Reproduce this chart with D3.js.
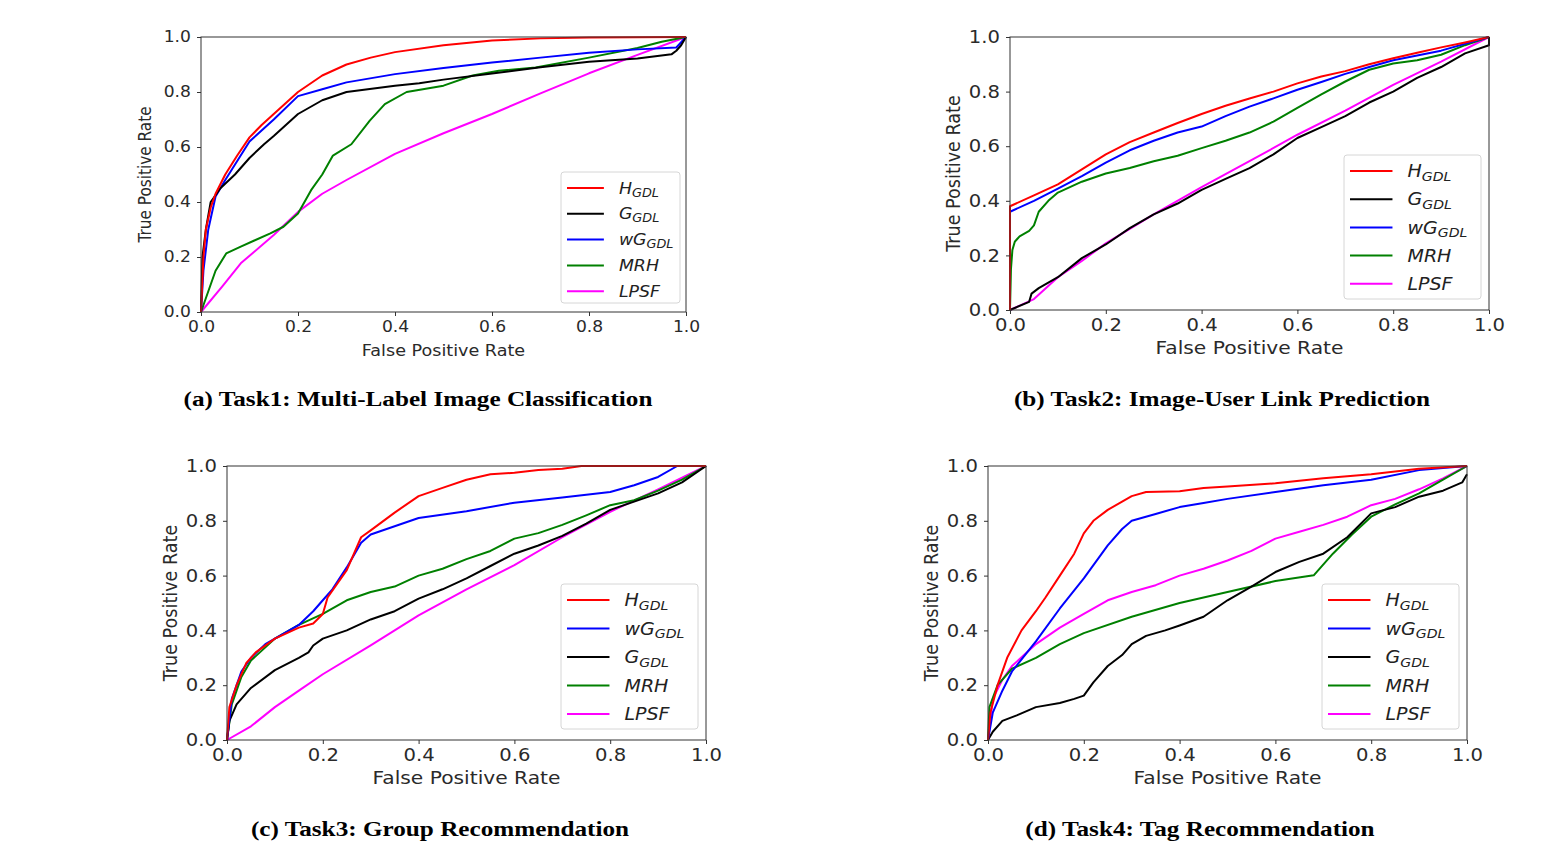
<!DOCTYPE html>
<html>
<head>
<meta charset="utf-8">
<script src="https://cdn.jsdelivr.net/npm/d3@7"></script>
<style>
  body { margin: 0; background: #fff; }
  .tick text { font-family: "DejaVu Sans", sans-serif; fill: #2a2a2a; }
  .axis line { stroke: #333; }
  .lab { font-family: "DejaVu Sans", sans-serif; fill: #2a2a2a; }
  .cap { font-family: "Liberation Serif", serif; font-weight: bold; fill: #000; }
  .leg { font-family: "DejaVu Sans", sans-serif; font-style: italic; fill: #222; }
</style>
</head>
<body>
<svg id="fig" width="1541" height="851"></svg>
<script>
// ROC points, [false positive rate, true positive rate]
const task1_H = [[0,0],[0.005,0.2],[0.01,0.3],[0.02,0.38],[0.03,0.43],[0.05,0.5],[0.075,0.57],[0.1,0.635],[0.125,0.68],[0.15,0.72],[0.2,0.8],[0.25,0.86],[0.3,0.9],[0.35,0.925],[0.4,0.945],[0.5,0.97],[0.6,0.987],[0.7,0.995],[0.8,0.998],[1,1]];
const task1_G = [[0,0],[0.003,0.2],[0.01,0.3],[0.02,0.4],[0.04,0.45],[0.07,0.5],[0.1,0.56],[0.13,0.61],[0.15,0.64],[0.2,0.72],[0.25,0.77],[0.3,0.8],[0.4,0.823],[0.45,0.832],[0.5,0.845],[0.6,0.867],[0.7,0.89],[0.8,0.91],[0.9,0.922],[0.97,0.937],[0.98,0.95],[0.99,0.97],[1,1]];
const task1_wG = [[0,0],[0.005,0.15],[0.015,0.3],[0.03,0.42],[0.05,0.48],[0.1,0.62],[0.15,0.7],[0.2,0.785],[0.25,0.81],[0.3,0.835],[0.4,0.865],[0.5,0.887],[0.6,0.907],[0.7,0.925],[0.8,0.943],[0.9,0.955],[0.98,0.962],[1,1]];
const task1_MRH = [[0,0],[0.01,0.05],[0.02,0.1],[0.03,0.15],[0.052,0.213],[0.082,0.238],[0.11,0.26],[0.143,0.286],[0.17,0.31],[0.2,0.358],[0.227,0.443],[0.25,0.5],[0.272,0.569],[0.31,0.61],[0.348,0.696],[0.379,0.756],[0.424,0.8],[0.5,0.823],[0.56,0.86],[0.614,0.877],[0.69,0.889],[0.8,0.925],[0.9,0.96],[0.95,0.983],[1,1]];
const task1_LPSF = [[0,0],[0.044,0.093],[0.082,0.177],[0.15,0.28],[0.2,0.364],[0.25,0.43],[0.3,0.48],[0.4,0.575],[0.5,0.65],[0.6,0.72],[0.7,0.795],[0.8,0.868],[0.9,0.935],[1,1]];

const task2_H = [[0,0],[0,0.38],[0.05,0.42],[0.1,0.46],[0.15,0.515],[0.2,0.57],[0.25,0.615],[0.3,0.65],[0.35,0.685],[0.4,0.718],[0.45,0.748],[0.5,0.775],[0.55,0.8],[0.6,0.83],[0.65,0.855],[0.7,0.875],[0.75,0.9],[0.8,0.922],[0.85,0.942],[0.9,0.962],[0.95,0.98],[1,1]];
const task2_G = [[0,0],[0.04,0.03],[0.045,0.06],[0.06,0.08],[0.1,0.12],[0.15,0.19],[0.2,0.24],[0.25,0.3],[0.3,0.35],[0.35,0.39],[0.4,0.44],[0.45,0.48],[0.5,0.52],[0.55,0.57],[0.6,0.63],[0.65,0.67],[0.7,0.71],[0.75,0.76],[0.8,0.8],[0.85,0.85],[0.9,0.89],[0.95,0.94],[1,0.97],[1,1]];
const task2_wG = [[0,0],[0,0.36],[0.05,0.4],[0.1,0.445],[0.15,0.49],[0.2,0.54],[0.25,0.585],[0.3,0.62],[0.35,0.65],[0.4,0.672],[0.45,0.71],[0.5,0.745],[0.55,0.775],[0.6,0.807],[0.65,0.835],[0.7,0.865],[0.75,0.89],[0.8,0.915],[0.9,0.95],[1,1]];
const task2_MRH = [[0,0],[0.002,0.15],[0.005,0.22],[0.01,0.25],[0.02,0.27],[0.04,0.29],[0.05,0.31],[0.06,0.36],[0.08,0.4],[0.1,0.43],[0.15,0.47],[0.2,0.5],[0.25,0.52],[0.3,0.545],[0.35,0.565],[0.4,0.593],[0.45,0.62],[0.5,0.65],[0.55,0.69],[0.6,0.74],[0.65,0.79],[0.7,0.837],[0.75,0.88],[0.8,0.903],[0.85,0.915],[0.9,0.935],[0.95,0.97],[1,1]];
const task2_LPSF = [[0,0],[0.05,0.04],[0.1,0.12],[0.15,0.18],[0.2,0.244],[0.3,0.35],[0.4,0.45],[0.5,0.545],[0.6,0.642],[0.7,0.73],[0.8,0.825],[0.9,0.91],[1,1]];

const task3_H = [[0,0],[0.005,0.12],[0.02,0.2],[0.04,0.28],[0.06,0.32],[0.1,0.37],[0.15,0.41],[0.18,0.425],[0.2,0.46],[0.21,0.52],[0.25,0.62],[0.28,0.74],[0.3,0.765],[0.35,0.83],[0.4,0.89],[0.45,0.92],[0.5,0.95],[0.55,0.97],[0.6,0.975],[0.65,0.985],[0.7,0.99],[0.74,1],[1,1]];
const task3_wG = [[0,0],[0.01,0.15],[0.03,0.25],[0.05,0.3],[0.08,0.35],[0.1,0.37],[0.15,0.42],[0.18,0.47],[0.2,0.51],[0.22,0.55],[0.25,0.63],[0.28,0.72],[0.3,0.75],[0.35,0.78],[0.4,0.81],[0.5,0.835],[0.6,0.866],[0.7,0.885],[0.8,0.905],[0.85,0.93],[0.9,0.96],[0.94,1],[1,1]];
const task3_G = [[0,0],[0.005,0.07],[0.02,0.13],[0.05,0.19],[0.1,0.255],[0.15,0.3],[0.17,0.32],[0.18,0.345],[0.2,0.37],[0.25,0.4],[0.3,0.44],[0.35,0.47],[0.4,0.516],[0.45,0.55],[0.5,0.59],[0.55,0.635],[0.6,0.68],[0.65,0.71],[0.7,0.745],[0.75,0.79],[0.8,0.84],[0.85,0.87],[0.9,0.9],[0.95,0.94],[1,1]];
const task3_MRH = [[0,0],[0.01,0.13],[0.03,0.23],[0.05,0.29],[0.1,0.37],[0.15,0.42],[0.2,0.46],[0.25,0.51],[0.3,0.54],[0.35,0.56],[0.4,0.6],[0.45,0.625],[0.5,0.66],[0.55,0.69],[0.6,0.735],[0.65,0.755],[0.7,0.785],[0.75,0.82],[0.8,0.857],[0.85,0.875],[0.9,0.91],[0.95,0.95],[1,1]];
const task3_LPSF = [[0,0],[0.05,0.05],[0.1,0.12],[0.15,0.18],[0.2,0.24],[0.3,0.345],[0.4,0.455],[0.5,0.55],[0.6,0.638],[0.7,0.74],[0.8,0.833],[0.9,0.915],[1,1]];

const task4_H = [[0,0],[0.005,0.1],[0.02,0.2],[0.04,0.3],[0.07,0.4],[0.1,0.47],[0.12,0.52],[0.15,0.6],[0.18,0.68],[0.2,0.754],[0.22,0.8],[0.25,0.84],[0.28,0.87],[0.3,0.89],[0.33,0.905],[0.4,0.908],[0.45,0.92],[0.5,0.925],[0.6,0.937],[0.7,0.955],[0.8,0.97],[0.9,0.99],[1,1]];
const task4_wG = [[0,0],[0.01,0.1],[0.03,0.18],[0.05,0.25],[0.1,0.36],[0.15,0.48],[0.2,0.59],[0.25,0.71],[0.28,0.77],[0.3,0.8],[0.35,0.825],[0.4,0.85],[0.45,0.865],[0.5,0.88],[0.6,0.905],[0.7,0.93],[0.8,0.95],[0.9,0.985],[1,1]];
const task4_G = [[0,0],[0.01,0.03],[0.03,0.07],[0.06,0.09],[0.1,0.12],[0.15,0.135],[0.18,0.15],[0.2,0.162],[0.22,0.21],[0.25,0.27],[0.28,0.31],[0.3,0.35],[0.33,0.38],[0.37,0.4],[0.4,0.418],[0.45,0.45],[0.5,0.51],[0.55,0.56],[0.6,0.613],[0.65,0.65],[0.7,0.68],[0.75,0.74],[0.8,0.827],[0.85,0.85],[0.9,0.888],[0.95,0.91],[0.99,0.94],[1,0.97]];
const task4_MRH = [[0,0],[0.003,0.12],[0.02,0.2],[0.05,0.26],[0.1,0.3],[0.15,0.35],[0.2,0.39],[0.3,0.45],[0.4,0.5],[0.5,0.54],[0.6,0.58],[0.68,0.601],[0.72,0.68],[0.76,0.75],[0.8,0.815],[0.85,0.86],[0.9,0.9],[0.95,0.95],[1,1]];
const task4_LPSF = [[0,0],[0.01,0.15],[0.03,0.22],[0.05,0.27],[0.1,0.35],[0.15,0.41],[0.2,0.46],[0.25,0.51],[0.3,0.54],[0.35,0.565],[0.4,0.6],[0.45,0.625],[0.5,0.655],[0.55,0.69],[0.6,0.735],[0.65,0.76],[0.7,0.785],[0.75,0.815],[0.8,0.857],[0.85,0.88],[0.9,0.915],[0.95,0.955],[1,1]];

const ticks = [0, 0.2, 0.4, 0.6, 0.8, 1.0];
const methods = {
  H:    {main: "H",  sub: "GDL", color: "#ff0000"},
  G:    {main: "G",  sub: "GDL", color: "#000000"},
  wG:   {main: "wG", sub: "GDL", color: "#0000ff"},
  MRH:  {main: "MRH", sub: "",   color: "#008000"},
  LPSF: {main: "LPSF", sub: "",  color: "#ff00ff"}
};

// the source figures are stretched sideways, so text gets a horizontal scale
const sx = 1.12;

const panels = [
  {caption: "(a) Task1: Multi-Label Image Classification", capX: 418, capY: 406,
   l: 201, r: 686, t: 37, b: 312, tfs: 15.3, lfs: 15.3,
   order: ["H","G","wG","MRH","LPSF"],
   series: {H: task1_H, G: task1_G, wG: task1_wG, MRH: task1_MRH, LPSF: task1_LPSF},
   leg: {x: 561, y: 172, w: 119, h: 131, row: 25.8, fs: 15.5}},
  {caption: "(b) Task2: Image-User Link Prediction", capX: 1222, capY: 406,
   l: 1010, r: 1489, t: 37, b: 310, tfs: 17.5, lfs: 17.6,
   order: ["H","G","wG","MRH","LPSF"],
   series: {H: task2_H, G: task2_G, wG: task2_wG, MRH: task2_MRH, LPSF: task2_LPSF},
   leg: {x: 1344, y: 155, w: 137, h: 144, row: 28.2, fs: 17}},
  {caption: "(c) Task3: Group Recommendation", capX: 440, capY: 836,
   l: 227, r: 706, t: 466, b: 740, tfs: 17.5, lfs: 17.6,
   order: ["H","wG","G","MRH","LPSF"],
   series: {H: task3_H, G: task3_G, wG: task3_wG, MRH: task3_MRH, LPSF: task3_LPSF},
   leg: {x: 561, y: 584, w: 137, h: 145, row: 28.5, fs: 17}},
  {caption: "(d) Task4: Tag Recommendation", capX: 1200, capY: 836,
   l: 988, r: 1467, t: 466, b: 740, tfs: 17.5, lfs: 17.6,
   order: ["H","wG","G","MRH","LPSF"],
   series: {H: task4_H, G: task4_G, wG: task4_wG, MRH: task4_MRH, LPSF: task4_LPSF},
   leg: {x: 1322, y: 584, w: 137, h: 145, row: 28.5, fs: 17}}
];

const svg = d3.select("#fig");

panels.forEach(p => {
  const x = d3.scaleLinear().domain([0, 1]).range([p.l, p.r]);
  const y = d3.scaleLinear().domain([0, 1]).range([p.b, p.t]);
  const g = svg.append("g");

  const line = d3.line().x(d => x(d[0])).y(d => y(d[1]));

  // curves, drawn in reverse legend order so the first entry ends on top
  p.order.slice().reverse().forEach(k => {
    g.append("path")
      .datum(p.series[k])
      .attr("fill", "none")
      .attr("stroke", methods[k].color)
      .attr("stroke-width", 2)
      .attr("stroke-linejoin", "round")
      .attr("d", line);
  });

  const xAxis = g.append("g").attr("class", "axis")
    .attr("transform", "translate(0," + p.b + ")")
    .call(d3.axisBottom(x).tickValues(ticks).tickFormat(d3.format(".1f")).tickSize(4).tickPadding(5));
  const yAxis = g.append("g").attr("class", "axis")
    .attr("transform", "translate(" + p.l + ",0)")
    .call(d3.axisLeft(y).tickValues(ticks).tickFormat(d3.format(".1f")).tickSize(4).tickPadding(5));
  [xAxis, yAxis].forEach(a => {
    a.select(".domain").remove();
    a.selectAll("text").style("font-size", p.tfs + "px");
  });
  xAxis.selectAll("text").attr("transform", "scale(" + sx + ",1)");
  yAxis.selectAll("text").attr("transform", "scale(" + sx + ",1)");

  g.append("rect")
    .attr("x", p.l).attr("y", p.t)
    .attr("width", p.r - p.l).attr("height", p.b - p.t)
    .attr("fill", "none").attr("stroke", "#333").attr("stroke-width", 1);

  g.append("text").attr("class", "lab")
    .attr("transform", "translate(" + ((p.l + p.r) / 2) + "," + (p.b + 44) + ") scale(" + (sx + 0.03) + ",1)")
    .attr("text-anchor", "middle").style("font-size", p.lfs + "px")
    .text("False Positive Rate");
  g.append("text").attr("class", "lab")
    .attr("transform", "translate(" + (p.l - 50) + "," + ((p.t + p.b) / 2) + ") rotate(-90) scale(1," + sx + ")")
    .attr("text-anchor", "middle").style("font-size", p.lfs + "px")
    .text("True Positive Rate");

  // legend
  const L = p.leg;
  g.append("rect")
    .attr("x", L.x).attr("y", L.y).attr("width", L.w).attr("height", L.h)
    .attr("rx", 3).attr("fill", "#fff").attr("fill-opacity", 0.85)
    .attr("stroke", "#d6d6d6");
  p.order.forEach((k, i) => {
    const cy = L.y + 16 + i * L.row;
    g.append("line")
      .attr("x1", L.x + 6).attr("x2", L.x + 6 + L.w * 0.31)
      .attr("y1", cy).attr("y2", cy)
      .attr("stroke", methods[k].color).attr("stroke-width", 2);
    const t = g.append("text").attr("class", "leg")
      .attr("transform", "translate(" + (L.x + 6 + L.w * 0.31 + 15) + "," + (cy + L.fs * 0.36) + ") scale(" + sx + ",1)")
      .style("font-size", L.fs + "px");
    t.append("tspan").text(methods[k].main);
    if (methods[k].sub) {
      t.append("tspan").attr("dy", L.fs * 0.2).style("font-size", (L.fs * 0.74) + "px").text(methods[k].sub);
    }
  });

  svg.append("text").attr("class", "cap")
    .attr("transform", "translate(" + p.capX + "," + p.capY + ") scale(1.2,1)")
    .attr("text-anchor", "middle").style("font-size", "21px")
    .text(p.caption);
});
</script>
</body>
</html>
